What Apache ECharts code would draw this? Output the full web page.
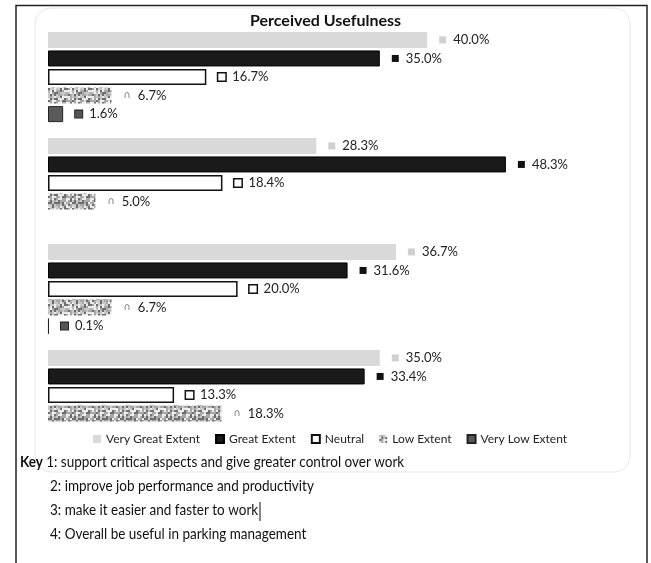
<!DOCTYPE html>
<html><head><meta charset="utf-8">
<script src="https://cdn.jsdelivr.net/npm/echarts@6/dist/echarts.min.js"></script>
<style>html,body{margin:0;padding:0;background:#fff}#c{width:651px;height:563px}</style>
</head><body><div id="c"></div>
<script>
const categories = ['1', '2', '3', '4'];
const seriesNames = ['Very Great Extent', 'Great Extent', 'Neutral', 'Low Extent', 'Very Low Extent'];
const veryGreat = [40.0, 28.3, 36.7, 35.0];
const great = [35.0, 48.3, 31.6, 33.4];
const neutral = [16.7, 18.4, 20.0, 13.3];
const low = [6.7, 5.0, 6.7, 18.3];
const veryLow = [1.6, null, 0.1, null];
const title = 'Perceived Usefulness';
const keyLines = [
  '1: support critical aspects and give greater control over work',
  '2: improve job performance and productivity',
  '3: make it easier and faster to work',
  '4: Overall be useful in parking management'
];

const FONT = "Lato,'Open Sans',sans-serif";

// speckle texture for Low Extent (deterministic)
const pc = document.createElement('canvas');
pc.width = 24; pc.height = 24;
const pctx = pc.getContext('2d');
pctx.fillStyle = '#ececec'; pctx.fillRect(0, 0, 24, 24);
let s = 12345;
function nxt() { s = (s * 1103515245 + 12345) % 2147483648; return s / 2147483648; }
for (let y = 0; y < 24; y += 2) for (let x = 0; x < 24; x += 2) {
  const h = nxt();
  if (h < 0.3) { pctx.fillStyle = '#6e6e6e'; pctx.fillRect(x, y, 2, 2); }
  else if (h < 0.55) { pctx.fillStyle = '#a8a8a8'; pctx.fillRect(x, y, 2, 2); }
  else if (h < 0.7) { pctx.fillStyle = '#c8c8c8'; pctx.fillRect(x, y, 2, 2); }
}

const styles = [
  { color: '#d9d9d9', borderColor: '#d9d9d9', borderWidth: 0, mk: { backgroundColor: '#d0d0d0', borderColor: '#d0d0d0', borderWidth: 0 } },
  { color: '#1a1a1a', borderColor: '#000', borderWidth: 1, mk: { backgroundColor: '#111', borderColor: '#111', borderWidth: 0 } },
  { color: '#ffffff', borderColor: '#111', borderWidth: 1.5, mk: { backgroundColor: '#fff', borderColor: '#111', borderWidth: 1.5 } },
  { color: { image: pc, repeat: 'repeat' }, borderColor: 'transparent', borderWidth: 0, mk: null },
  { color: '#5a5a5a', borderColor: '#222', borderWidth: 1, mk: { backgroundColor: '#555', borderColor: '#222', borderWidth: 1 } }
];
const dataSets = [veryGreat, great, neutral, low, veryLow];

const series = seriesNames.map((name, i) => {
  const st = styles[i];
  const rich = {
    v: { fontFamily: FONT, fontSize: 13, color: '#222', padding: [0, 0, 0, 7] }
  };
  let fmt;
  if (st.mk) {
    rich.m = Object.assign({ width: 7, height: 7 }, st.mk);
    fmt = p => '{m| }{v|' + p.value.toFixed(1) + '%}';
  } else {
    rich.g = { fontFamily: 'DejaVu Sans', fontSize: 10, color: '#777' };
    fmt = p => '{g|∩}{v|' + p.value.toFixed(1) + '%}';
  }
  return {
    name, type: 'bar',
    data: dataSets[i],
    barWidth: 16, barGap: '16%',
    itemStyle: { color: st.color, borderColor: st.borderColor, borderWidth: st.borderWidth },
    label: { show: true, position: 'right', distance: 12, formatter: fmt, rich },
    emphasis: { disabled: true },
    animation: false
  };
});

const KS = 0.9;
const chart = echarts.init(document.getElementById('c'), null, { renderer: 'canvas' });
chart.setOption({
  backgroundColor: '#fff',
  animation: false,
  title: { text: title, left: 'center', top: 8, textStyle: { fontFamily: FONT, fontSize: 16, fontWeight: 'bold', color: '#111' } },
  legend: {
    top: 428, left: 88, itemWidth: 8, itemHeight: 8, itemGap: 15, icon: 'rect',
    textStyle: { fontFamily: FONT, fontSize: 12, color: '#222' },
    data: seriesNames
  },
  grid: { left: 48, top: 24, width: 474, height: 424 },
  xAxis: { type: 'value', min: 0, max: 50, show: false },
  yAxis: { type: 'category', data: categories, inverse: true, show: false },
  series,
  graphic: [
    { type: 'polyline', shape: { points: [[16, 563], [16, 5.5], [647, 5.5], [647, 563]] }, style: { stroke: '#222', lineWidth: 1.5, fill: null }, silent: true },
    { type: 'rect', shape: { x: 35, y: 8, width: 595, height: 464, r: 16 }, style: { stroke: '#e6e6e6', lineWidth: 1, fill: null }, silent: true, z: -1 },
    { type: 'text', x: 20, y: 455, scaleX: KS, style: { text: '{b|Key }{n|' + keyLines[0] + '}', rich: { b: { fontFamily: FONT, fontSize: 15, fontWeight: 'bold', fill: '#111' }, n: { fontFamily: FONT, fontSize: 15, fill: '#111' } } } },
    { type: 'text', x: 50, y: 479, scaleX: KS, style: { text: keyLines[1], fontFamily: FONT, fontSize: 15, fill: '#111' } },
    { type: 'text', x: 50, y: 503, scaleX: KS, style: { text: keyLines[2], fontFamily: FONT, fontSize: 15, fill: '#111' } },
    { type: 'text', x: 50, y: 527, scaleX: KS, style: { text: keyLines[3], fontFamily: FONT, fontSize: 15, fill: '#111' } },
    { type: 'line', shape: { x1: 260, y1: 502, x2: 260, y2: 521 }, style: { stroke: '#111', lineWidth: 1 }, silent: true }
  ]
});
</script></body></html>
